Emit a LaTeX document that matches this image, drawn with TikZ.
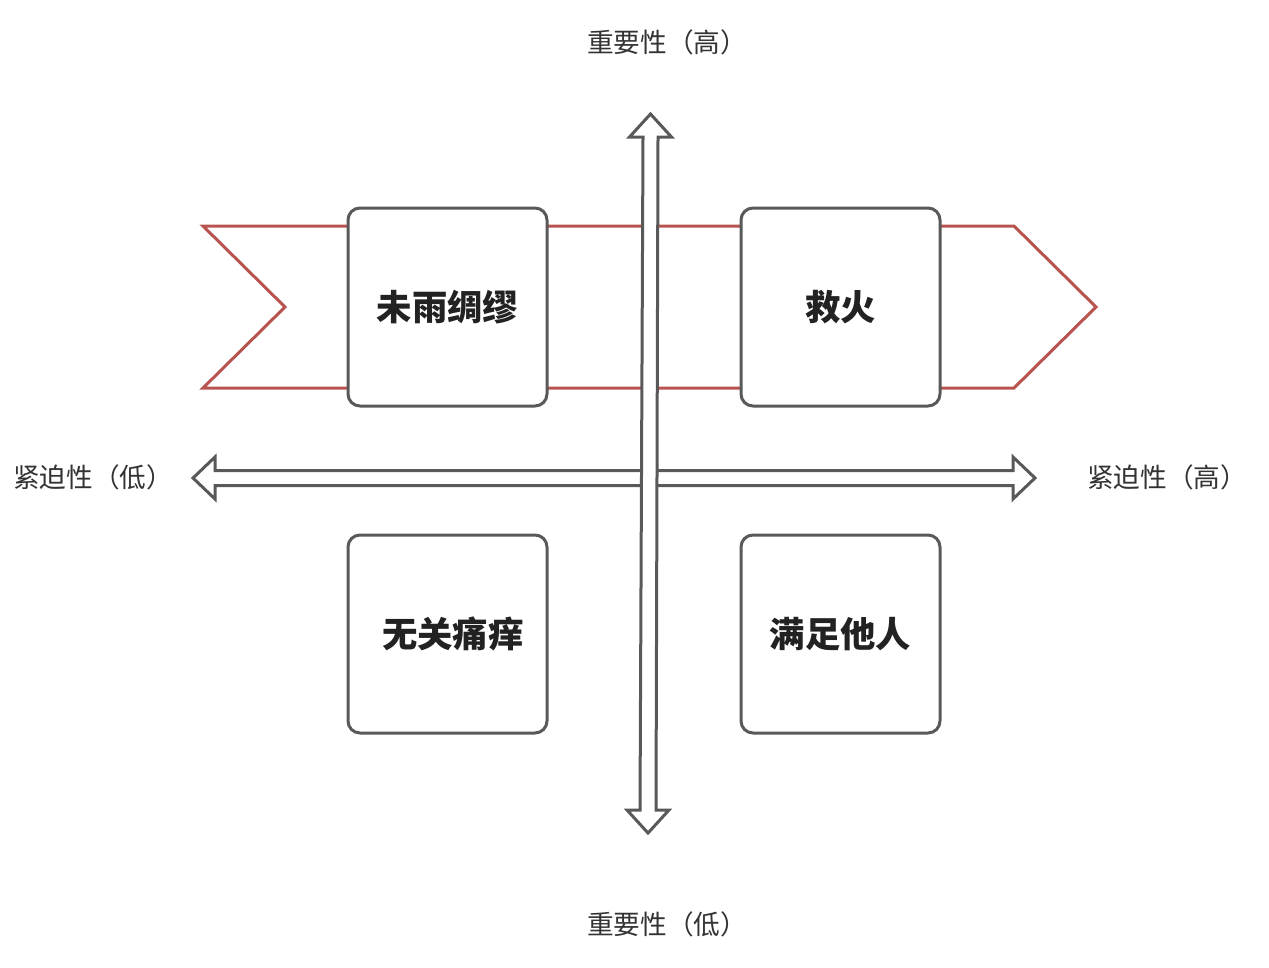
\documentclass[tikz,border=0pt]{standalone}
\usepackage{fontspec}
\setmainfont{Noto Sans CJK SC}
\usepackage{xcolor}
\definecolor{edgegray}{HTML}{595959}
\definecolor{ribbonred}{HTML}{B85450}
\definecolor{labeltext}{HTML}{333333}
\definecolor{boxtext}{HTML}{222222}
\usepackage{tikz}
\usetikzlibrary{positioning,calc}

\begin{document}
\begin{tikzpicture}[
  x=0.75pt, y=-0.75pt,
  quadbox/.style={
    draw=edgegray, line width=2.25pt, rounded corners=9pt,
    minimum width=149.25pt, minimum height=148.5pt,
    fill=white, text=boxtext, font=\fontsize{26.5}{30}\selectfont\bfseries,
    align=center, inner sep=0pt,
  },
  axislabel/.style={
    text=labeltext, font=\fontsize{20}{24}\selectfont, inner sep=0pt,
  },
  ribbon/.style={draw=ribbonred, line width=2.25pt, line join=miter},
  hollowarrow/.style={draw=edgegray, line width=2.25pt, fill=white, line join=miter},
]
\useasboundingbox (0,0) rectangle (1269,967);

% === RIBBON BEHIND THE TOP ROW ===
\draw[ribbon] (203,226) -- (1014,226) -- (1096,307) -- (1014,388)
  -- (203,388) -- (285,307) -- cycle;

% === HORIZONTAL AXIS: URGENCY ===
\draw[hollowarrow] (193,478) -- (215,457) -- (215,470.5) -- (1013,470.5)
  -- (1013,457) -- (1035,478) -- (1013,499) -- (1013,485.5)
  -- (215,485.5) -- (215,499) -- cycle;

% === FOUR QUADRANTS ===
\node[quadbox] (weiyu)  at (447.5,307) {未雨绸缪};
\node[quadbox] (jiuhuo) at (840.5,307) {救火};
\node[quadbox] (wuguan) at (447.5,634) {\hspace*{8pt}无关痛痒};
\node[quadbox] (manzu)  at (840.5,634) {满足他人};

% === VERTICAL AXIS: IMPORTANCE ===
\draw[hollowarrow] (650.5,114) -- (671.5,137) -- (658,137) -- (656,810)
  -- (669,810) -- (648,833) -- (627,810) -- (640,810)
  -- (643,137) -- (629.5,137) -- cycle;

% === AXIS LABELS ===
\node[axislabel, anchor=west] (imphigh) at (587,42)   {重要性（高）};
\node[axislabel, anchor=west] (implow)  at (587,924)  {重要性（低）};
\node[axislabel, anchor=west] (urglow)  at (13,477)   {紧迫性（低）};
\node[axislabel, anchor=west] (urghigh) at (1087,477) {紧迫性（高）};

\end{tikzpicture}
\end{document}
